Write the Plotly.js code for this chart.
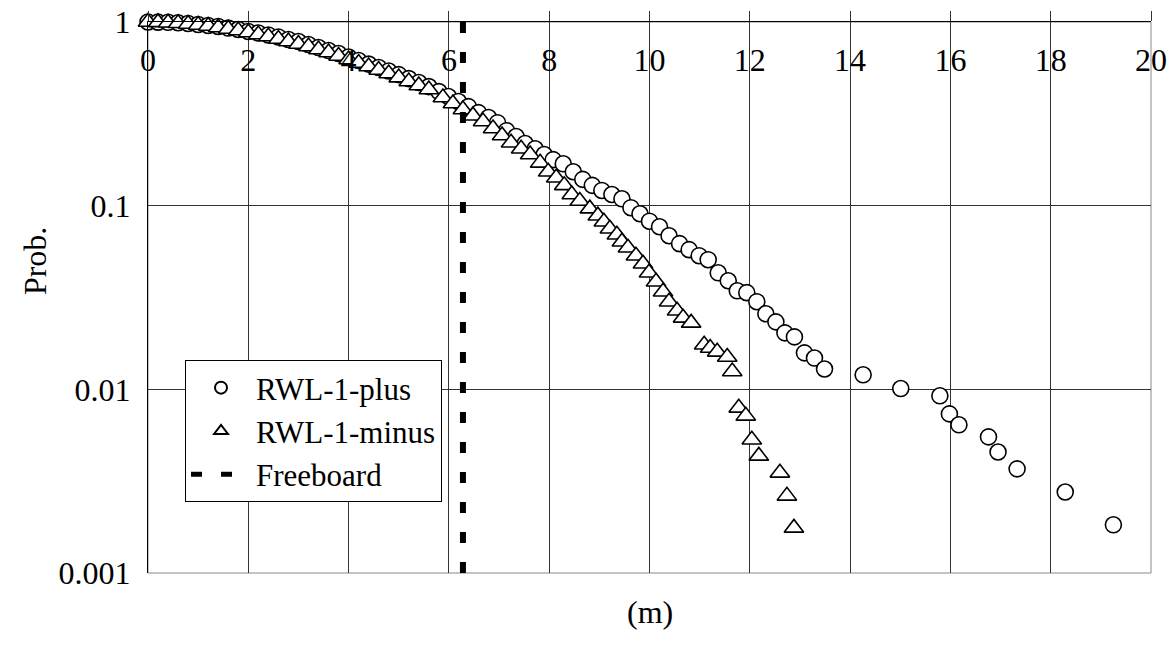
<!DOCTYPE html>
<html>
<head>
<meta charset="utf-8">
<script src="https://cdn.plot.ly/plotly-3.0.1.min.js"></script>
<style>
  html, body { margin: 0; padding: 0; background: #fff; }
  #chart { width: 1175px; height: 649px; }
</style>
</head>
<body>
<div id="chart"></div>
<script>
// Exceedance probability of run-up water level (m)
const plusX = [0, 0.2, 0.4, 0.6, 0.8, 1.0, 1.2, 1.4, 1.6, 1.8, 2.0, 2.2, 2.4, 2.6, 2.8, 3.0, 3.2, 3.4, 3.6, 3.8,
  4.0, 4.2, 4.4, 4.6, 4.8, 5.0, 5.2, 5.4, 5.6, 5.8, 5.99, 6.19, 6.39, 6.59, 6.79, 6.97, 7.15, 7.34, 7.52, 7.72,
  7.90, 8.08, 8.28, 8.48, 8.67, 8.86, 9.05, 9.25, 9.45, 9.63, 9.81, 10.0, 10.20, 10.39, 10.60, 10.79, 10.99, 11.17,
  11.37, 11.57, 11.75, 11.94, 12.14, 12.32, 12.52, 12.70, 12.89, 13.09, 13.29, 13.49, 14.26, 15.01, 15.79, 15.98,
  16.17, 16.76, 16.95, 17.33, 18.29, 19.25];
const plusP = [1.0, 0.998, 0.996, 0.991, 0.981, 0.969, 0.957, 0.945, 0.927, 0.910, 0.888, 0.871, 0.850, 0.829, 0.803,
  0.783, 0.754, 0.726, 0.699, 0.674, 0.645, 0.617, 0.590, 0.565, 0.541, 0.517, 0.492, 0.468, 0.445, 0.418, 0.393,
  0.369, 0.346, 0.321, 0.302, 0.283, 0.256, 0.238, 0.218, 0.204, 0.190, 0.178, 0.169, 0.153, 0.139, 0.129, 0.121,
  0.115, 0.109, 0.0975, 0.0904, 0.0823, 0.0768, 0.0686, 0.0621, 0.0576, 0.0534, 0.0508, 0.0431, 0.0390, 0.0344,
  0.0336, 0.0300, 0.0258, 0.0233, 0.0203, 0.0193, 0.0158, 0.0148, 0.0129, 0.0120, 0.0101, 0.00922, 0.00735,
  0.00641, 0.00551, 0.00456, 0.00369, 0.00276, 0.00183];

const minusX = [0, 0.2, 0.4, 0.6, 0.8, 1.0, 1.2, 1.4, 1.6, 1.8, 2.0, 2.2, 2.4, 2.6, 2.8, 3.0, 3.2, 3.4, 3.6, 3.8,
  4.0, 4.2, 4.4, 4.6, 4.8, 5.0, 5.2, 5.4, 5.6, 5.88, 6.08, 6.28, 6.48, 6.68, 6.88, 7.06, 7.24, 7.44, 7.62, 7.82,
  7.98, 8.14, 8.30, 8.45, 8.61, 8.81, 8.97, 9.09, 9.21, 9.35, 9.45, 9.57, 9.73, 9.87, 9.99, 10.13, 10.27, 10.39,
  10.55, 10.67, 10.83, 11.09, 11.21, 11.35, 11.55, 11.65, 11.78, 11.92, 12.04, 12.18, 12.60, 12.74, 12.88];
const minusP = [1.0, 0.995, 0.990, 0.985, 0.975, 0.963, 0.951, 0.933, 0.916, 0.899, 0.877, 0.855, 0.834, 0.808,
  0.783, 0.759, 0.735, 0.708, 0.682, 0.653, 0.625, 0.598, 0.572, 0.548, 0.524, 0.498, 0.474, 0.451, 0.429, 0.388,
  0.360, 0.334, 0.309, 0.287, 0.263, 0.241, 0.220, 0.204, 0.190, 0.171, 0.153, 0.142, 0.129, 0.115, 0.106, 0.0963,
  0.0882, 0.0818, 0.0749, 0.0695, 0.0636, 0.0590, 0.0534, 0.0483, 0.0431, 0.0385, 0.0340, 0.0300, 0.0268, 0.0245,
  0.0230, 0.0175, 0.0168, 0.0160, 0.0150, 0.0125, 0.00793, 0.00717, 0.00531, 0.00434, 0.00351, 0.00263, 0.00176];

const freeboardX = [6.28, 6.28];
const freeboardP = [1, 0.001];

const xTicks = [0, 2, 4, 6, 8, 10, 12, 14, 16, 18, 20];
const yTicks = [1, 0.1, 0.01, 0.001];
const yTickText = ['1', '0.1', '0.01', '0.001'];

const serif = 'Liberation Serif, Times New Roman, serif';
const fontSize = 32;

const traces = [
  {
    x: plusX, y: plusP, name: 'RWL-1-plus', type: 'scatter', mode: 'markers', cliponaxis: false,
    marker: { symbol: 'circle', size: 16, color: '#ffffff', line: { color: '#000000', width: 1.6 } }
  },
  {
    x: minusX, y: minusP, name: 'RWL-1-minus', type: 'scatter', mode: 'markers', cliponaxis: false,
    marker: { symbol: 'triangle-up', size: 17, color: '#ffffff', line: { color: '#000000', width: 1.6 } }
  },
  {
    x: freeboardX, y: freeboardP, name: 'Freeboard', type: 'scatter', mode: 'lines',
    line: { color: '#000000', width: 6, dash: '11px,19px' }
  }
];

const layout = {
  width: 1175, height: 649,
  margin: { l: 148, r: 24, t: 22, b: 76 },
  paper_bgcolor: '#ffffff', plot_bgcolor: '#ffffff',
  font: { family: serif, size: fontSize, color: '#000000' },
  showlegend: true,
  legend: {
    x: 0.0369, y: 0.3866, xanchor: 'left', yanchor: 'top',
    bgcolor: '#ffffff', bordercolor: '#000000', borderwidth: 1,
    font: { family: serif, size: 31, color: '#000000' },
    itemsizing: 'constant', itemwidth: 60, tracegroupgap: 0
  },
  xaxis: {
    range: [0, 20], side: 'top', tickvals: xTicks, ticktext: xTicks.map(String),
    showgrid: true, gridcolor: '#333333', gridwidth: 1,
    showline: true, linecolor: '#000000', linewidth: 1,
    ticks: 'outside', ticklen: 10, tickcolor: '#333333',
    ticklabelposition: 'inside', ticklabeloverflow: 'allow', ticklabelstandoff: 30,
    tickfont: { family: serif, size: fontSize, color: '#000000' },
    zeroline: false, fixedrange: true
  },
  yaxis: {
    type: 'log', range: [-3, 0], tickvals: yTicks, ticktext: yTickText,
    showgrid: true, gridcolor: '#333333', gridwidth: 1,
    showline: true, linecolor: '#000000', linewidth: 1,
    ticks: '', ticklabelstandoff: 10,
    tickfont: { family: serif, size: fontSize, color: '#000000' },
    zeroline: false, fixedrange: true
  },
  shapes: [
    { type: 'rect', xref: 'paper', yref: 'paper', x0: 0, x1: 1, y0: 0, y1: 1,
      line: { color: '#888888', width: 1 }, layer: 'below' }
  ],
  annotations: [
    { text: 'Prob.', xref: 'paper', yref: 'paper', x: -0.1127, y: 0.566, xanchor: 'center', yanchor: 'middle',
      showarrow: false, textangle: -90, font: { family: serif, size: fontSize, color: '#000000' } },
    { text: '(m)', xref: 'paper', yref: 'paper', x: 0.5005, y: -0.0708, xanchor: 'center', yanchor: 'middle',
      showarrow: false, font: { family: serif, size: fontSize, color: '#000000' } }
  ]
};

Plotly.newPlot('chart', traces, layout, { displayModeBar: false, staticPlot: true });
</script>
</body>
</html>
